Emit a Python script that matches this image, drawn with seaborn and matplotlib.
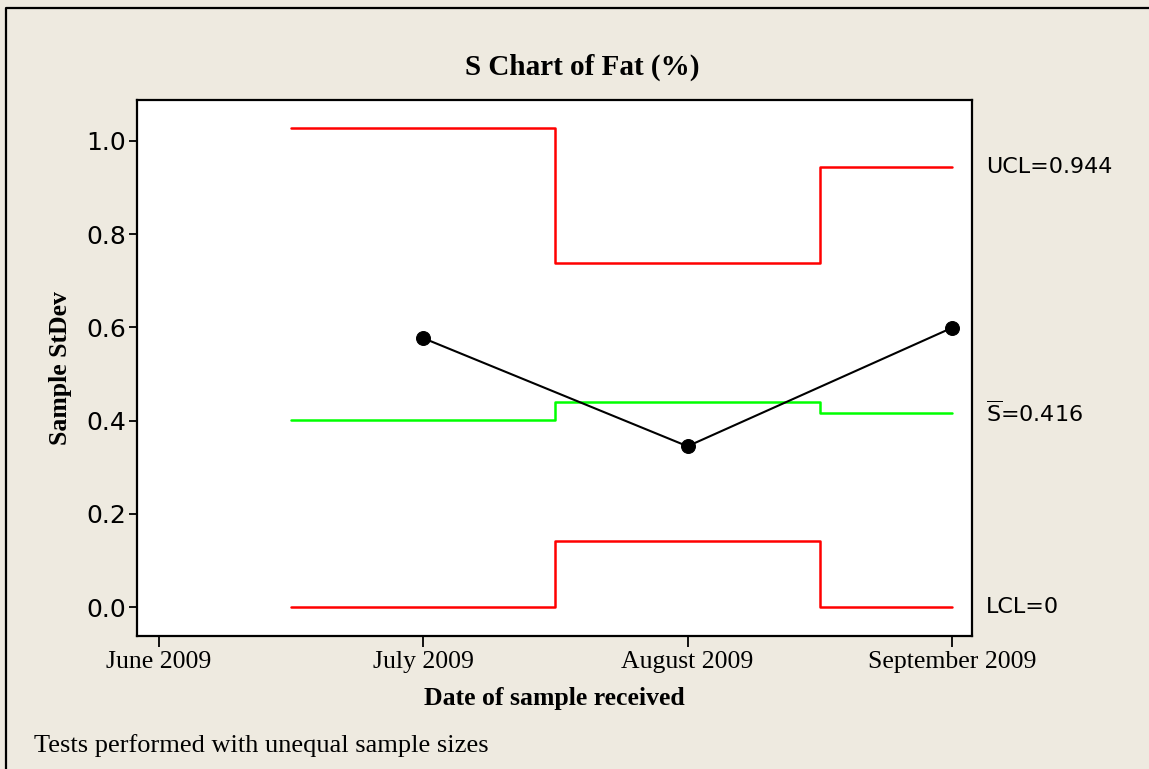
import matplotlib
matplotlib.use("Agg")
import matplotlib.pyplot as plt
import matplotlib.transforms as mtransforms
from matplotlib.lines import Line2D
import pandas as pd
import seaborn as sns

# Month axis labels and the months that have a subgroup
month_labels = ["June 2009", "July 2009", "August 2009", "September 2009"]
sample_months = ["July 2009", "August 2009", "September 2009"]
sample_stdev = [0.577, 0.345, 0.599]

# Control limits vary with subgroup size; one step per subgroup
ucl_values = [1.028, 0.738, 0.944]
center_values = [0.401, 0.440, 0.416]
lcl_values = [0.0, 0.141, 0.0]

y_ticks = [0.0, 0.2, 0.4, 0.6, 0.8, 1.0]

ucl_label = "UCL=0.944"
center_label = r"$\overline{\mathrm{S}}$=0.416"
lcl_label = "LCL=0"

sns.set_style("white")
plt.rcParams["mathtext.fontset"] = "dejavusans"
plt.rcParams["font.family"] = ["DejaVu Sans"]

BG = "#EEEAE0"
SERIF = ["Liberation Serif", "DejaVu Serif"]

fig = plt.figure(figsize=(11.49, 7.69), dpi=100, facecolor=BG)
ax = fig.add_axes([0.1192, 0.1730, 0.7267, 0.6970])
ax.set_facecolor("white")

month_pos = list(range(len(month_labels)))
sample_pos = [month_labels.index(m) for m in sample_months]
# each limit step starts half a month before its subgroup and the last ends on it
edges = [p - 0.5 for p in sample_pos] + [sample_pos[-1]]


def stepped(values):
    return pd.DataFrame({"x": edges, "y": list(values) + [values[-1]]})


for vals, col in [(ucl_values, "#FF0000"), (lcl_values, "#FF0000"),
                  (center_values, "#00FF00")]:
    sns.lineplot(data=stepped(vals), x="x", y="y", ax=ax, color=col,
                 lw=1.8, drawstyle="steps-post", estimator=None)

points = pd.DataFrame({"x": sample_pos, "y": sample_stdev})
sns.lineplot(data=points, x="x", y="y", ax=ax, color="black", lw=1.5,
             marker="o", markersize=10, markeredgecolor="black", estimator=None)

ax.set_xlim(-0.083, 3.076)
ax.set_ylim(-0.062, 1.088)

ax.set_xticks(month_pos)
ax.set_xticklabels(month_labels, fontfamily=SERIF, fontsize=18.5)
ax.set_yticks(y_ticks)
ax.set_yticklabels([f"{v:.1f}" for v in y_ticks], fontsize=18)

for side in ["left", "right", "top", "bottom"]:
    ax.spines[side].set_visible(True)
    ax.spines[side].set_color("black")
    ax.spines[side].set_linewidth(1.6)
ax.tick_params(axis="x", which="major", direction="out", length=8,
               width=1.3, color="black", labelcolor="black", pad=3, bottom=True)
ax.tick_params(axis="y", which="major", direction="out", length=6,
               width=1.3, color="black", labelcolor="black", pad=2, left=True)

ax.set_xlabel("Date of sample received", fontfamily=SERIF, fontweight="bold",
              fontsize=18.5, labelpad=10, color="black")
ax.set_ylabel("Sample StDev", fontfamily=SERIF, fontweight="bold",
              fontsize=18.5, labelpad=10, color="black")

fig.text(0.507, 0.913, "S Chart of Fat (%)", ha="center", va="center",
         fontfamily=SERIF, fontweight="bold", fontsize=21, color="black")

trans = mtransforms.blended_transform_factory(ax.transAxes, ax.transData)
ax.text(1.017, ucl_values[-1], ucl_label, transform=trans, ha="left",
        va="center", fontsize=16, color="black")
ax.text(1.017, center_values[-1], center_label, transform=trans, ha="left",
        va="center", fontsize=16, color="black")
ax.text(1.017, lcl_values[-1], lcl_label, transform=trans, ha="left",
        va="center", fontsize=16, color="black")

fig.text(0.030, 0.031, "Tests performed with unequal sample sizes",
         ha="left", va="center", fontfamily=SERIF, fontsize=19, color="black")

# Frame drawn along the top and left edges of the figure
fx = 6 / 1149
fy = 1 - 8 / 769
fig.add_artist(Line2D([fx, fx, 1.0], [0.0, fy, fy], transform=fig.transFigure,
                      color="black", lw=1.6))

fig.savefig("out.png", dpi=100, facecolor=BG)
